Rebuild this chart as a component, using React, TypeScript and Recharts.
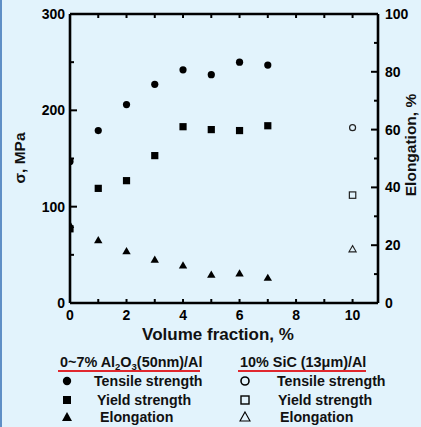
import React from 'react';
import { ScatterChart, Scatter, XAxis, YAxis } from 'recharts';

const fractions = [0, 1, 2, 3, 4, 5, 6, 7];
const tensileAl2O3 = [147, 179, 206, 227, 242, 237, 250, 247];
const yieldAl2O3 = [77, 119, 127, 153, 183, 180, 179, 184];
const elongAl2O3 = [27, 21.7, 17.9, 15, 13, 9.8, 10.2, 8.7];

const sicFraction = [10];
const tensileSiC = [182];
const yieldSiC = [112];
const elongSiC = [18.6];

const xTicks = [0, 1, 2, 3, 4, 5, 6, 7, 8, 9, 10];
const xLabels = [0, 2, 4, 6, 8, 10];
const leftTicks = [0, 50, 100, 150, 200, 250, 300];
const leftLabels = [0, 100, 200, 300];
const rightTicks = [0, 10, 20, 30, 40, 50, 60, 70, 80, 90, 100];
const rightLabels = [0, 20, 40, 60, 80, 100];

const FONT = "'Liberation Sans', Arial, Helvetica, sans-serif";

const toPts = (xs: number[], ys: number[]) => xs.map((x, i) => ({ x, y: ys[i] }));

const BottomTick = (p: any) => {
  const v = p.payload.value;
  const major = xLabels.includes(v);
  return (
    <g>
      {v !== 0 && <line x1={p.x} x2={p.x} y1={p.y} y2={p.y - 4} stroke="#000" strokeWidth={2} />}
      {major && (
        <text x={p.x} y={p.y + 17} textAnchor="middle" fontFamily={FONT} fontWeight="bold" fontSize={14} fill="#000">
          {v}
        </text>
      )}
    </g>
  );
};

const TopTick = (p: any) => {
  const v = p.payload.value;
  if (v === 0) return <g />;
  return <line x1={p.x} x2={p.x} y1={p.y} y2={p.y + 4} stroke="#000" strokeWidth={2} />;
};

const LeftTick = (p: any) => {
  const v = p.payload.value;
  const major = leftLabels.includes(v);
  return (
    <g>
      {v !== 0 && v !== 300 && (
        <line x1={p.x} x2={p.x + (major ? 7 : 4)} y1={p.y} y2={p.y} stroke="#000" strokeWidth={2} />
      )}
      {major && (
        <text x={p.x - 5} y={p.y + 5} textAnchor="end" fontFamily={FONT} fontWeight="bold" fontSize={14} fill="#000">
          {v}
        </text>
      )}
    </g>
  );
};

const RightTick = (p: any) => {
  const v = p.payload.value;
  const major = rightLabels.includes(v);
  return (
    <g>
      {v !== 0 && v !== 100 && (
        <line x1={p.x} x2={p.x - (major ? 7 : 4)} y1={p.y} y2={p.y} stroke="#000" strokeWidth={2} />
      )}
      {major && (
        <text x={p.x + 7} y={p.y + 5} textAnchor="start" fontFamily={FONT} fontWeight="bold" fontSize={14} fill="#000">
          {v}
        </text>
      )}
    </g>
  );
};

const FilledCircle = (p: any) => <circle cx={p.cx} cy={p.cy} r={3.6} fill="#000" />;
const FilledSquare = (p: any) => <rect x={p.cx - 3.6} y={p.cy - 3.6} width={7.2} height={7.2} fill="#000" />;
const FilledTriangle = (p: any) => (
  <path d={`M${p.cx},${p.cy - 4.2} L${p.cx + 4.2},${p.cy + 3} L${p.cx - 4.2},${p.cy + 3} Z`} fill="#000" />
);
const OpenCircle = (p: any) => <circle cx={p.cx} cy={p.cy} r={3} fill="none" stroke="#222" strokeWidth={1.2} />;
const OpenSquare = (p: any) => (
  <rect x={p.cx - 3.2} y={p.cy - 3.2} width={6.4} height={6.4} fill="none" stroke="#222" strokeWidth={1.2} />
);
const OpenTriangle = (p: any) => (
  <path d={`M${p.cx},${p.cy - 3.6} L${p.cx + 3.6},${p.cy + 2.6} L${p.cx - 3.6},${p.cy + 2.6} Z`} fill="none" stroke="#222" strokeWidth={1.1} />
);

const sym = (kind: string) => {
  const c = 8;
  let el: any = null;
  if (kind === 'fc') el = <circle cx={c} cy={c} r={4.2} fill="#000" />;
  if (kind === 'fs') el = <rect x={c - 4} y={c - 4} width={8} height={8} fill="#000" />;
  if (kind === 'ft') el = <path d={`M${c},${c - 5} L${c + 5},${c + 4} L${c - 5},${c + 4} Z`} fill="#000" />;
  if (kind === 'oc') el = <circle cx={c} cy={c} r={4} fill="none" stroke="#000" strokeWidth={1.6} />;
  if (kind === 'os') el = <rect x={c - 4} y={c - 4} width={8} height={8} fill="none" stroke="#000" strokeWidth={1.4} />;
  if (kind === 'ot') el = <path d={`M${c},${c - 5} L${c + 5},${c + 4} L${c - 5},${c + 4} Z`} fill="none" stroke="#000" strokeWidth={1.1} />;
  return (
    <svg width={16} height={16} style={{ display: 'block' }}>
      {el}
    </svg>
  );
};

const legendLeft = [
  { k: 'fc', t: 'Tensile strength', tx: 94 },
  { k: 'fs', t: 'Yield strength', tx: 97 },
  { k: 'ft', t: 'Elongation', tx: 100 },
];
const legendRight = [
  { k: 'oc', t: 'Tensile strength', tx: 277 },
  { k: 'os', t: 'Yield strength', tx: 278 },
  { k: 'ot', t: 'Elongation', tx: 280 },
];
const rowY = [381, 400, 417];

export default function App() {
  const txt: React.CSSProperties = {
    position: 'absolute',
    fontFamily: FONT,
    fontWeight: 'bold',
    fontSize: 14.2,
    color: '#111',
    whiteSpace: 'nowrap',
    lineHeight: '16px',
  };
  return (
    <div
      style={{
        position: 'absolute',
        left: 0,
        top: 0,
        width: 421,
        height: 427,
        background: '#e2f3fc',
        overflow: 'hidden',
      }}
    >
      <div style={{ position: 'absolute', left: 0, top: 0, width: 2, height: 427, background: '#5f8fc6' }} />
      <ScatterChart width={421} height={427} margin={{ top: 4, right: 0, bottom: 104, left: 0 }}>
        <XAxis
          xAxisId="b"
          type="number"
          dataKey="x"
          domain={[0, 10.9]}
          ticks={xTicks}
          interval={0}
          height={20}
          tickSize={0}
          tickMargin={0}
          tick={(p: any) => <BottomTick {...p} />}
          axisLine={{ stroke: '#000', strokeWidth: 2.6 }}
          allowDataOverflow
        />
        <XAxis
          xAxisId="t"
          orientation="top"
          type="number"
          dataKey="x"
          domain={[0, 10.9]}
          ticks={xTicks}
          interval={0}
          height={10}
          tickSize={0}
          tickMargin={0}
          tick={(p: any) => <TopTick {...p} />}
          axisLine={{ stroke: '#000', strokeWidth: 2.6 }}
          allowDataOverflow
        />
        <YAxis
          yAxisId="l"
          type="number"
          dataKey="y"
          domain={[0, 300]}
          ticks={leftTicks}
          interval={0}
          width={70}
          tickSize={0}
          tickMargin={0}
          tick={(p: any) => <LeftTick {...p} />}
          axisLine={{ stroke: '#000', strokeWidth: 2.6 }}
        />
        <YAxis
          yAxisId="r"
          orientation="right"
          type="number"
          dataKey="y"
          domain={[0, 100]}
          ticks={rightTicks}
          interval={0}
          width={43}
          tickSize={0}
          tickMargin={0}
          tick={(p: any) => <RightTick {...p} />}
          axisLine={{ stroke: '#000', strokeWidth: 2.6 }}
        />
        <Scatter xAxisId="b" yAxisId="l" data={toPts(fractions, tensileAl2O3)} shape={FilledCircle} isAnimationActive={false} />
        <Scatter xAxisId="b" yAxisId="l" data={toPts(fractions, yieldAl2O3)} shape={FilledSquare} isAnimationActive={false} />
        <Scatter xAxisId="b" yAxisId="r" data={toPts(fractions, elongAl2O3)} shape={FilledTriangle} isAnimationActive={false} />
        <Scatter xAxisId="b" yAxisId="l" data={toPts(sicFraction, tensileSiC)} shape={OpenCircle} isAnimationActive={false} />
        <Scatter xAxisId="b" yAxisId="l" data={toPts(sicFraction, yieldSiC)} shape={OpenSquare} isAnimationActive={false} />
        <Scatter xAxisId="b" yAxisId="r" data={toPts(sicFraction, elongSiC)} shape={OpenTriangle} isAnimationActive={false} />
      </ScatterChart>

      {/* axis titles */}
      <div
        style={{
          ...txt,
          fontSize: 15.5,
          left: 20,
          top: 158,
          transform: 'translate(-50%, -50%) rotate(-90deg)',
        }}
      >
        σ, MPa
      </div>
      <div
        style={{
          ...txt,
          fontSize: 15.5,
          left: 411,
          top: 145,
          transform: 'translate(-50%, -50%) rotate(-90deg)',
        }}
      >
        Elongation, %
      </div>
      <div style={{ ...txt, fontSize: 17, left: 218, top: 335, transform: 'translate(-50%, -50%)' }}>
        Volume fraction, %
      </div>

      {/* legend headers */}
      <div style={{ ...txt, fontSize: 14.4, left: 60, top: 354 }}>
        0~7% Al<sub style={{ fontSize: 9.5, verticalAlign: '-3px' }}>2</sub>O
        <sub style={{ fontSize: 9.5, verticalAlign: '-3px' }}>3</sub>(50nm)/Al
      </div>
      <div style={{ position: 'absolute', left: 58, top: 370, width: 142, height: 2, background: '#e0282e' }} />
      <div style={{ ...txt, fontSize: 14.4, left: 240, top: 354 }}>10% SiC (13μm)/Al</div>
      <div style={{ position: 'absolute', left: 238, top: 370, width: 128, height: 2, background: '#e0282e' }} />

      {legendLeft.map((r, i) => (
        <React.Fragment key={'l' + i}>
          <div style={{ position: 'absolute', left: 59, top: rowY[i] - 8 }}>{sym(r.k)}</div>
          <div style={{ ...txt, left: r.tx, top: rowY[i] - 8 }}>{r.t}</div>
        </React.Fragment>
      ))}
      {legendRight.map((r, i) => (
        <React.Fragment key={'r' + i}>
          <div style={{ position: 'absolute', left: 237, top: rowY[i] - 8 }}>{sym(r.k)}</div>
          <div style={{ ...txt, left: r.tx, top: rowY[i] - 8 }}>{r.t}</div>
        </React.Fragment>
      ))}
    </div>
  );
}
